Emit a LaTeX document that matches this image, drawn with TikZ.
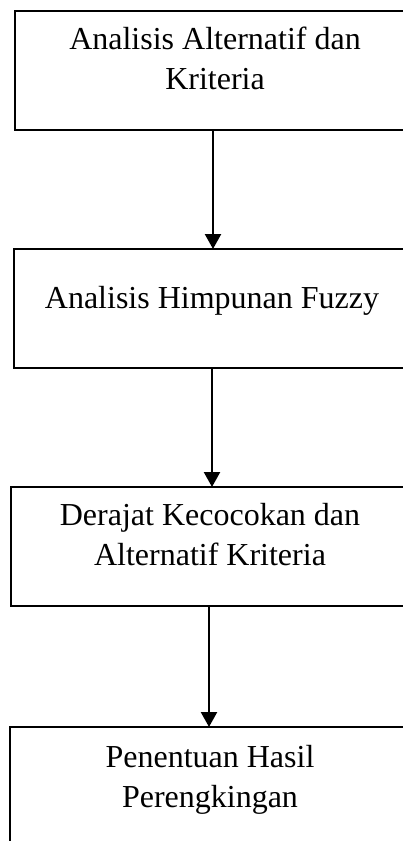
\documentclass[tikz,border=0pt]{standalone}
\usepackage{fontspec}
\setmainfont{Liberation Serif}
\usetikzlibrary{arrows.meta,positioning}
\tikzset{
  pbox/.style={draw=black, line width=2.3pt, minimum width=396pt, minimum height=119pt, inner sep=0pt, outer sep=0pt},
  ptxt/.style={align=center, font=\fontsize{32}{40}\selectfont, inner sep=0pt, anchor=base},
  parr/.style={-{Triangle[width=16pt,length=15pt]}, line width=2.3pt}
}
\begin{document}
\begin{tikzpicture}[x=1pt,y=-1pt]
\useasboundingbox (0,0) rectangle (403,841);
\clip (0,0) rectangle (403,841);
\node[pbox] (b1) at (213,70.5) {};
\node[pbox, below=119pt of b1, xshift=-1pt] (b2) {};
\node[pbox, below=119pt of b2, xshift=-3pt] (b3) {};
\node[pbox, below=121pt of b3, xshift=-1pt] (b4) {};
% base anchor sits on the last line
\node[ptxt] (t1) at ([xshift=2pt,yshift=-78pt]b1.north) {Analisis Alternatif dan\\Kriteria};
\node[ptxt] (t2) at ([yshift=-59pt]b2.north) {Analisis Himpunan Fuzzy};
\node[ptxt] (t3) at ([xshift=1pt,yshift=-78pt]b3.north) {Derajat Kecocokan dan\\Alternatif Kriteria};
\node[ptxt] (t4) at ([xshift=2pt,yshift=-80pt]b4.north) {Penentuan Hasil\\Perengkingan};
\draw[parr] (b1.south) -- (b1.south |- b2.north);
\draw[parr] (b2.south) -- (b2.south |- b3.north);
\draw[parr] (b3.south) -- (b3.south |- b4.north);
\end{tikzpicture}
\end{document}
